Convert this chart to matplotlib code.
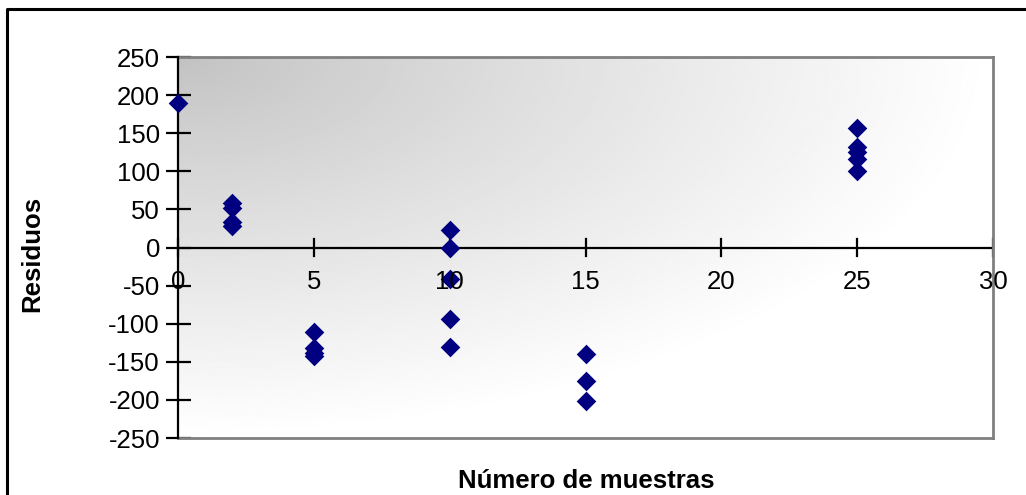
import numpy as np
import matplotlib
matplotlib.use('Agg')
import matplotlib.pyplot as plt
from matplotlib.lines import Line2D

plt.rcParams['font.family'] = ['Liberation Sans', 'DejaVu Sans']

# data
muestras = [0, 2, 2, 2, 2, 5, 5, 5, 5, 10, 10, 10, 10, 10, 15, 15, 15, 25, 25, 25, 25, 25]
residuos = [190, 58, 52, 34, 28, -111, -132, -138, -143, 23, 0, -41, -94, -130,
            -140, -175, -201, 157, 132, 125, 116, 100]
xticks = [0, 5, 10, 15, 20, 25, 30]
yticks = [-250, -200, -150, -100, -50, 0, 50, 100, 150, 200, 250]

FS = 18.5
fig = plt.figure(figsize=(10.26, 4.95), dpi=100)
W, H = 1026, 495
ax = fig.add_axes([178 / W, 1 - 438 / H, (993 - 178) / W, (438 - 57) / H])

# outer border of the chart area (only top and left are inside the image)
fig.lines.append(Line2D([7 / W, 7 / W, 1.0], [0.0, 1 - 9 / H, 1 - 9 / H],
                        transform=fig.transFigure, color='black', linewidth=2.2))

# gray gradient, darkest in top-left corner
u, v = np.meshgrid(np.linspace(0, 1, 300), np.linspace(0, 1, 300))
d = np.sqrt(u ** 2 + v ** 2)
g = 0.76 + 0.24 * np.clip(d, 0, 1) ** 0.9
ax.imshow(g, cmap='gray', vmin=0, vmax=1, extent=[0, 1, 0, 1], transform=ax.transAxes,
          aspect='auto', zorder=0, interpolation='bilinear')

ax.scatter(muestras, residuos, marker='D', s=100, color='#000080', zorder=5,
           linewidths=0, clip_on=False)

ax.set_xlim(0, 30)
ax.set_ylim(-250, 250)

for s in ['top', 'right', 'bottom']:
    ax.spines[s].set_color('#808080')
    ax.spines[s].set_linewidth(2)
ax.spines['left'].set_color('black')
ax.spines['left'].set_linewidth(1.6)
ax.spines['left'].set_zorder(4)

# x axis drawn at y=0
ax.axhline(0, color='black', linewidth=1.6, zorder=2)
ax.set_xticks([])
for xv in xticks:
    ax.plot([xv, xv], [-11, 11], color='black', linewidth=1.6, zorder=2, clip_on=False)
    ax.text(xv, -30, str(xv), ha='center', va='top', fontsize=FS, zorder=6)

ax.set_yticks(yticks)
ax.set_yticklabels([str(t) for t in yticks], fontsize=FS)
ax.tick_params(axis='y', direction='inout', length=18, width=1.6, pad=4)

fig.text(32 / W, 1 - 254 / H, 'Residuos', rotation=90, ha='center', va='center',
         fontsize=FS, fontweight='bold')
fig.text(586 / W, 1 - 488 / H, 'Número de muestras', ha='center', va='baseline',
         fontsize=FS, fontweight='bold')

fig.savefig('out.png', dpi=100)
